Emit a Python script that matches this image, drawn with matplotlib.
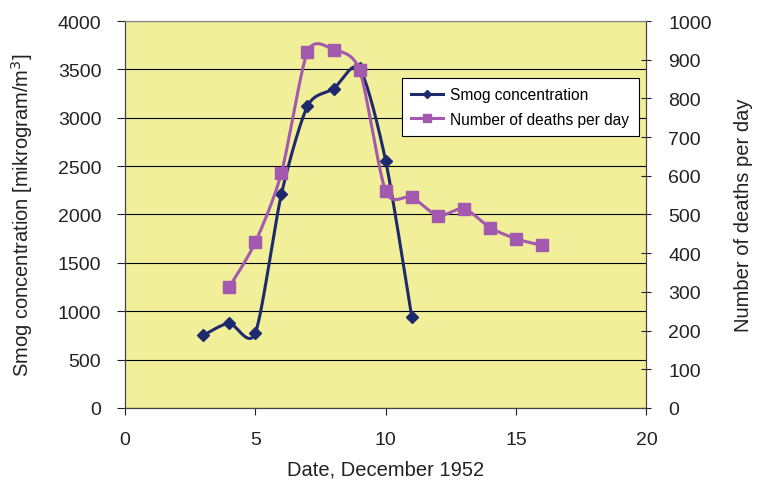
import matplotlib.pyplot as plt
import numpy as np
from matplotlib.lines import Line2D

plt.rcParams['font.family'] = ['Liberation Sans', 'DejaVu Sans']

# data
smog_days = [3, 4, 5, 6, 7, 8, 9, 10, 11]
smog_conc = [750, 875, 775, 2210, 3120, 3300, 3510, 2555, 940]

death_days = [4, 5, 6, 7, 8, 9, 10, 11, 12, 13, 14, 15, 16]
deaths = [312, 428, 607, 920, 926, 873, 560, 545, 497, 515, 466, 437, 420]


def smooth(x, y, k=0.13, n=30):
    # bezier smoothing like excel's "smoothed line"
    x = np.asarray(x, float)
    y = np.asarray(y, float)
    xs, ys = [], []
    t = np.linspace(0, 1, n)
    for i in range(len(x) - 1):
        p0 = np.array([x[i - 1], y[i - 1]]) if i > 0 else np.array([x[i], y[i]])
        p1 = np.array([x[i], y[i]])
        p2 = np.array([x[i + 1], y[i + 1]])
        p3 = np.array([x[i + 2], y[i + 2]]) if i + 2 < len(x) else p2
        c1 = p1 + (p2 - p0) * k
        c2 = p2 - (p3 - p1) * k
        pts = (((1 - t) ** 3)[:, None] * p1 + (3 * (1 - t) ** 2 * t)[:, None] * c1
               + (3 * (1 - t) * t ** 2)[:, None] * c2 + (t ** 3)[:, None] * p2)
        xs.extend(pts[:, 0])
        ys.extend(pts[:, 1])
    return xs, ys


navy = '#1F2A6E'
purple = '#A259AE'
txt = '#222222'

fig = plt.figure(figsize=(7.57, 4.81), dpi=100)
ax = fig.add_axes([0.165, 0.15, 0.689, 0.804])
ax2 = ax.twinx()

ax.set_facecolor('#F2EF9A')
ax.set_xlim(0, 20)
ax.set_ylim(0, 4000)
ax.set_xticks(range(0, 21, 5))
ax.set_yticks(range(0, 4001, 500))
ax.grid(axis='y', color='black', linewidth=0.8)
ax.set_axisbelow(True)
ax2.set_ylim(0, 1000)
ax2.set_yticks(range(0, 1001, 100))

sx, sy = smooth(smog_days, smog_conc)
ax.plot(sx, sy, color=navy, lw=2.2, zorder=3)
ax.plot(smog_days, smog_conc, ls='none', marker='D', ms=6, color=navy, zorder=3)

dx, dy = smooth(death_days, deaths)
ax2.plot(dx, dy, color=purple, lw=2.2, zorder=3)
ax2.plot(death_days, deaths, ls='none', marker='s', ms=8, color=purple, zorder=3)

ax.tick_params(axis='y', labelsize=14, width=0.8, length=6, pad=11, colors=txt)
ax.tick_params(axis='x', labelsize=14, width=0.8, length=5, pad=12, colors=txt)
ax2.tick_params(axis='y', labelsize=14, width=0.8, length=7, pad=12,
                direction='inout', colors=txt)
for a in (ax, ax2):
    for s in a.spines.values():
        s.set_color('#444444')
        s.set_linewidth(0.8)
    a.spines['top'].set_color('#888888')

ax.set_xlabel('Date, December 1952', fontsize=14.5, color=txt, labelpad=8)
ax.set_ylabel('Smog concentration [mikrogram/m$^3$]', fontsize=14.5, color=txt,
              labelpad=16)
ax2.set_ylabel('Number of deaths per day', fontsize=14.5, color=txt, labelpad=16)

handles = [Line2D([], [], color=navy, lw=2.2, marker='D', ms=4),
           Line2D([], [], color=purple, lw=2.2, marker='s', ms=6)]
leg = ax2.legend(handles, ['Smog concentration', 'Number of deaths per day'],
                 loc='upper right', bbox_to_anchor=(0.985, 0.853), fontsize=11.2,
                 fancybox=False, framealpha=1, edgecolor='black',
                 handlelength=2.0, handletextpad=0.5, borderpad=0.6,
                 labelspacing=0.6, borderaxespad=0)
leg.get_frame().set_linewidth(0.8)

fig.savefig('out.png', dpi=100)
